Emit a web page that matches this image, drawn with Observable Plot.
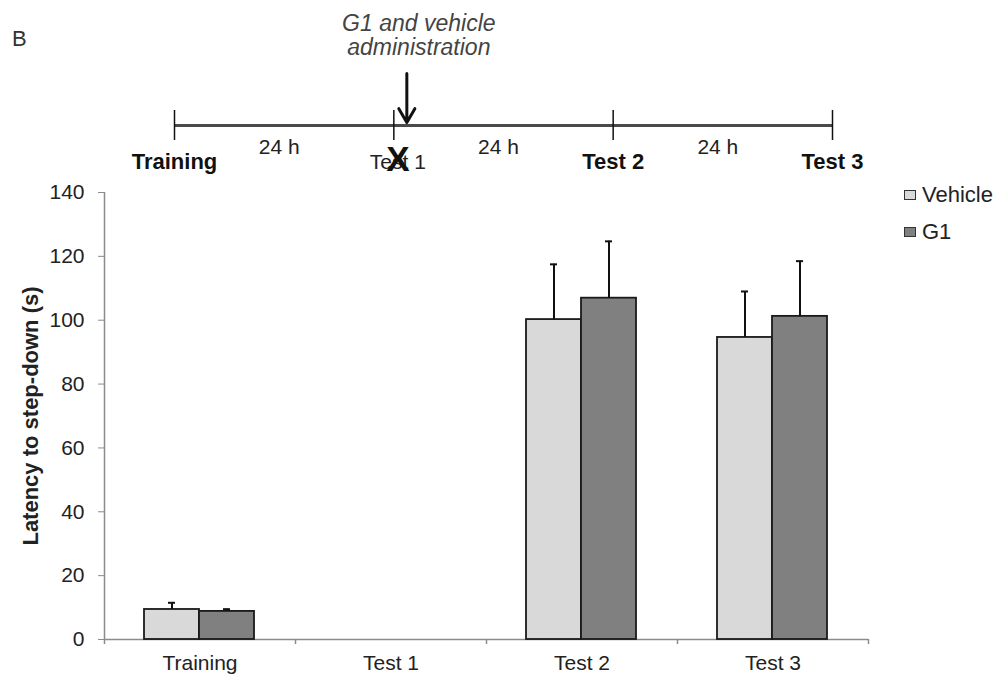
<!DOCTYPE html>
<html>
<head>
<meta charset="utf-8">
<script src="https://cdn.jsdelivr.net/npm/d3@7"></script>
<script src="https://cdn.jsdelivr.net/npm/@observablehq/plot@0.6"></script>
<style>
  body { margin: 0; background: #fff; }
  #fig { position: relative; width: 1002px; height: 680px; overflow: hidden;
         font-family: "Liberation Sans", Arial, sans-serif; color: #222; background: #fff; }
  #panel { position: absolute; left: 12px; top: 28px; font-size: 22px; line-height: 22px; color: #333; }
  #timeline { position: absolute; left: 0; top: 0; }
  #chart { position: absolute; left: 0; top: 180px; }
  #legend { position: absolute; left: 904px; top: 183px; font-size: 22px; line-height: 24px; color: #222; }
  #legend .item { display: flex; align-items: center; height: 24px; margin-bottom: 13px; }
  #legend .sw { width: 12px; height: 10px; border: 1px solid #333; box-sizing: border-box; margin-right: 6px; }
</style>
</head>
<body>
<div id="fig">
  <div id="panel">B</div>
  <div id="timeline"></div>
  <div id="chart"></div>
  <div id="legend"></div>
</div>
<script>
// ---- Protocol timeline ----
const stages = ["Training", "Test 1", "Test 2", "Test 3"];
const stageHours = [0, 24, 48, 72];
const skippedStages = ["Test 1"];          // no test session was run here
const adminHour = 24;                        // G1 / vehicle given right after the Test 1 slot
const adminNote = "G1 and vehicle\nadministration";
const intervalLabel = "24 h";

// ---- Step-down latency (s), mean and SEM per group ----
const categories = ["Training", "Test 1", "Test 2", "Test 3"];
const groups = ["Vehicle", "G1"];
const groupColors = ["#d9d9d9", "#808080"];
const vehicleMean = [9.4, null, 100.2, 94.6];
const vehicleSem  = [2.1, null, 17.3, 14.4];
const g1Mean      = [8.8, null, 106.9, 101.2];
const g1Sem       = [0.7, null, 17.8, 17.3];
const yTicks = [0, 20, 40, 60, 80, 100, 120, 140];
const yLabel = "Latency to step-down (s)";

const font = "'Liberation Sans', Arial, sans-serif";

// timeline
const timeline = stages.map((s, i) => ({stage: s, hours: stageHours[i], skipped: skippedStages.includes(s)}));
const intervals = d3.pairs(stageHours).map(([a, b]) => ({mid: (a + b) / 2}));

const tl = Plot.plot({
  width: 1002,
  height: 180,
  marginTop: 0, marginBottom: 0, marginLeft: 174, marginRight: 170,
  style: {fontFamily: font, background: "transparent", color: "#111", overflow: "visible"},
  x: {domain: [0, 72], axis: null},
  y: {domain: [-1, 1], range: [140, 110], axis: null},
  marks: [
    Plot.ruleY([0], {x1: stageHours[0], x2: stageHours[stageHours.length - 1], stroke: "#4a4a4a", strokeWidth: 3}),
    Plot.ruleX(timeline, {x: "hours", y1: -1, y2: 1, stroke: "#111", strokeWidth: 1.5}),
    Plot.text(intervals, {x: "mid", y: 0, text: () => intervalLabel, dy: 22, dx: -5, fontSize: 21, fill: "#222"}),
    Plot.text(timeline.filter(d => !d.skipped), {x: "hours", y: 0, text: "stage", dy: 36, fontSize: 22, fontWeight: "bold", fill: "#111"}),
    Plot.text(timeline.filter(d => d.skipped), {x: "hours", y: 0, text: "stage", dy: 37, dx: 4, fontSize: 21, fill: "#222"}),
    Plot.text(timeline.filter(d => d.skipped), {x: "hours", y: 0, text: () => "X", dy: 34, dx: 4, fontSize: 35, fontWeight: "bold", fill: "#111"}),
    Plot.arrow([adminHour], {x: d => d, y1: 3.47, y2: 0.2, dx: 13, stroke: "#111", strokeWidth: 3}),
    Plot.text([adminNote], {x: adminHour, frameAnchor: "top", text: d => d, dy: 35, dx: 25, lineAnchor: "middle",
      lineHeight: 1.05, fontSize: 23, fontStyle: "italic", fill: "#444"})
  ]
});
document.getElementById("timeline").append(tl);

// bar chart
const rows = categories.flatMap((c, i) => [
  {category: c, group: "Vehicle", mean: vehicleMean[i], sem: vehicleSem[i]},
  {category: c, group: "G1", mean: g1Mean[i], sem: g1Sem[i]}
]).filter(d => d.mean != null);

const bw = 191;                                  // band width: (1002 - 104 - 134) / 4
const slot = {Vehicle: [40, 95], G1: [95, 150]}; // bar extent inside each category band
const axisGray = "#8c8c8c";

const groupMarks = groups.flatMap(g => {
  const [lo, hi] = slot[g];
  const c = (lo + hi) / 2;
  const data = rows.filter(d => d.group === g);
  return [
    Plot.barY(data, {x: "category", y: "mean", fill: "group", stroke: "#1a1a1a", strokeWidth: 1.8,
      insetLeft: lo, insetRight: bw - hi}),
    Plot.ruleX(data, {x: "category", y1: "mean", y2: d => d.mean + d.sem, dx: c - bw / 2, stroke: "#111", strokeWidth: 2}),
    Plot.tickY(data, {x: "category", y: d => d.mean + d.sem, insetLeft: c - 3.5, insetRight: bw - c - 3.5,
      stroke: "#111", strokeWidth: 2})
  ];
});

const chart = Plot.plot({
  width: 1002,
  height: 500,
  marginTop: 12, marginBottom: 41, marginLeft: 104, marginRight: 134,
  style: {fontFamily: font, fontSize: "21px", color: "#222", background: "transparent", overflow: "visible"},
  x: {domain: categories, padding: 0},
  y: {domain: [0, 140]},
  color: {domain: groups, range: groupColors},
  marks: [
    Plot.ruleY([0], {stroke: axisGray, strokeWidth: 1.5}),
    Plot.ruleX([categories[0]], {x: d => d, dx: -bw / 2, y1: 0, y2: 140, stroke: axisGray, strokeWidth: 1.5}),
    Plot.ruleX(categories, {x: d => d, dx: -bw / 2, y1: 0, y2: 0, insetBottom: -5, stroke: axisGray, strokeWidth: 1.5}),
    Plot.ruleX(categories.slice(-1), {x: d => d, dx: bw / 2, y1: 0, y2: 0, insetBottom: -5, stroke: axisGray, strokeWidth: 1.5}),
    Plot.axisY({ticks: yTicks, tickSize: 6, tickPadding: 14, stroke: axisGray, fill: "#222", fontSize: 21, label: null}),
    Plot.axisX({tickSize: 0, tickPadding: 16, fill: "#222", fontSize: 21, label: null}),
    Plot.text([yLabel], {frameAnchor: "left", textAnchor: "middle", text: d => d, rotate: -90, dx: -74,
      fontSize: 22, fontWeight: "bold", fill: "#222"}),
    ...groupMarks
  ]
});
document.getElementById("chart").append(chart);

// legend
const legend = document.getElementById("legend");
groups.forEach((g, i) => {
  const item = document.createElement("div");
  item.className = "item";
  const sw = document.createElement("span");
  sw.className = "sw";
  sw.style.background = groupColors[i];
  const label = document.createElement("span");
  label.textContent = g;
  item.append(sw, label);
  legend.append(item);
});
</script>
</body>
</html>
